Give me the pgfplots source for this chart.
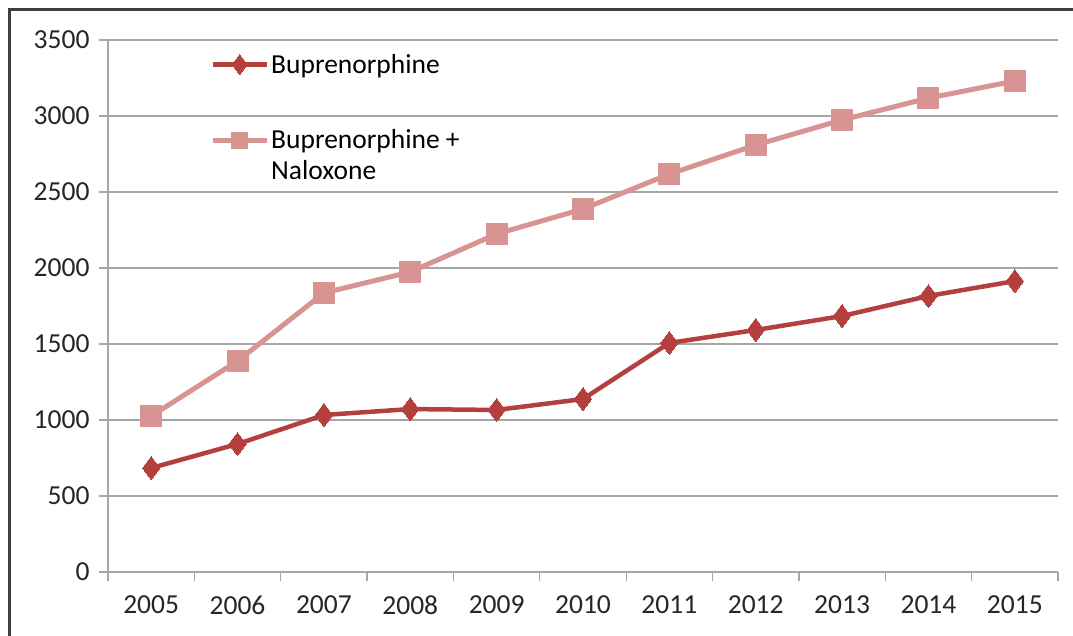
\documentclass[border=0pt]{standalone}
\usepackage{pgfplots}
\pgfplotsset{compat=1.18}
\usepackage{fontspec}
\setmainfont{Carlito}
\definecolor{bup}{HTML}{B3403D}
\definecolor{nal}{HTML}{D79493}
\definecolor{gridc}{HTML}{A6A6A6}
\pgfplotsset{legimg/.style={legend image code/.code={\draw[mark repeat=2,mark phase=2,##1,mark size=#1] plot coordinates {(0pt,0pt) (27pt,0pt) (54pt,0pt)};}}}
\begin{document}
\begin{tikzpicture}[font=\fontsize{27.5}{31}\selectfont]
\useasboundingbox (-108pt,-63pt) rectangle (965pt,572pt);
\draw[line width=3pt,color=black!75] (-98pt,-70pt) -- (-98pt,562pt) -- (975pt,562pt);
\begin{axis}[
  at={(0pt,0pt)}, anchor=south west,
  scale only axis, width=950pt, height=532pt,
  xmin=-0.5, xmax=10.5, ymin=0, ymax=3500,
  xtick={-0.5,0.5,...,10.5},
  xticklabels={2005,2006,2007,2008,2009,2010,2011,2012,2013,2014,2015},
  x tick label as interval,
  ytick={0,500,...,3500},
  /pgf/number format/1000 sep={},
  /pgf/number format/assume math mode=true,
  axis x line*=bottom, axis y line*=left,
  axis line style={draw=gridc, line width=1.3pt, -},
  tick align=outside, major tick length=9pt,
  tick style={draw=gridc, line width=1.3pt},
  ymajorgrids, grid style={draw=gridc, line width=1.3pt},
  yticklabel style={text=black!85, xshift=-6pt},
  xticklabel style={text=black!85, yshift=-11pt},
  legend style={at={(102pt,520pt)}, anchor=north west, draw=none, fill=none,
    inner sep=0pt, row sep=51pt, column sep=0pt, cells={anchor=west}},
  legend cell align=left,
]
\addplot[color=bup, line width=4.5pt, mark=diamond*, mark size=11.5pt, mark options={line width=0pt, fill=bup}, legimg=10pt]
coordinates {(0,684) (1,842) (2,1033) (3,1072) (4,1066) (5,1138) (6,1507) (7,1592) (8,1684) (9,1816) (10,1914)};
\addlegendentry{Buprenorphine}
\addplot[color=nal, line width=5pt, mark=square*, mark size=10.5pt, mark options={line width=0pt, fill=nal}, legimg=8pt]
coordinates {(0,1026) (1,1388) (2,1836) (3,1974) (4,2224) (5,2388) (6,2618) (7,2809) (8,2974) (9,3118) (10,3230)};
\addlegendentry{\parbox[t]{220pt}{Buprenorphine +\\Naloxone}}
\end{axis}
\end{tikzpicture}
\end{document}
